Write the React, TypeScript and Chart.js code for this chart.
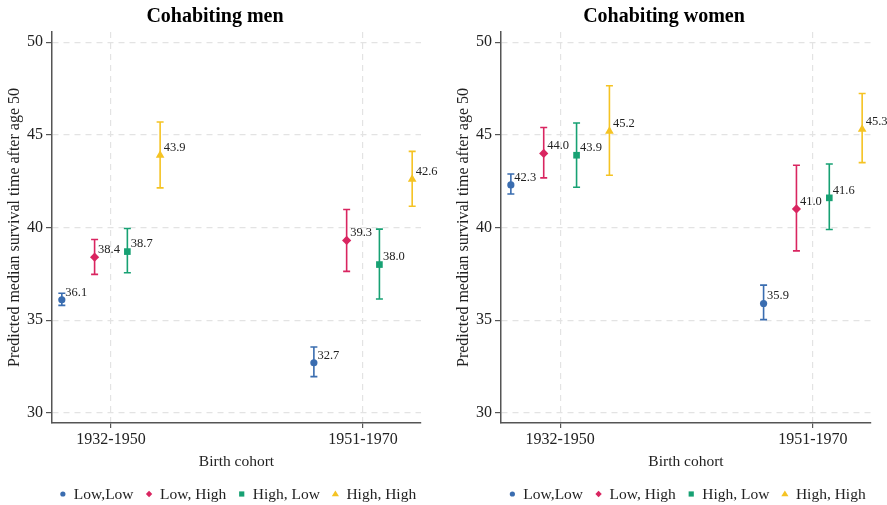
import React, { useEffect, useRef } from 'react';
import { Chart, registerables } from 'chart.js';

Chart.register(...registerables);

// ---------- data ----------
const cohorts = ['1932-1950', '1951-1970'];
const seriesNames = ['Low,Low', 'Low, High', 'High, Low', 'High, High'];
const seriesColors = ['#3a6db0', '#d92560', '#17a173', '#f5c323'];
const seriesShapes = ['circle', 'rectRot', 'rect', 'triangle'];
const seriesOffsets = [-0.195, -0.065, 0.065, 0.195];
const yTicks = [30, 35, 40, 45, 50];

// Cohabiting men: estimate per cohort, CI lower, CI upper
const menLowLow = [36.1, 32.7];
const menLowLowLower = [35.8, 31.95];
const menLowLowUpper = [36.45, 33.55];
const menLowHigh = [38.4, 39.3];
const menLowHighLower = [37.47, 37.63];
const menLowHighUpper = [39.35, 40.97];
const menHighLow = [38.7, 38.0];
const menHighLowLower = [37.56, 36.14];
const menHighLowUpper = [39.95, 39.91];
const menHighHigh = [43.9, 42.6];
const menHighHighLower = [42.14, 41.15];
const menHighHighUpper = [45.69, 44.11];

// Cohabiting women
const womenLowLow = [42.3, 35.9];
const womenLowLowLower = [41.81, 35.03];
const womenLowLowUpper = [42.89, 36.89];
const womenLowHigh = [44.0, 41.0];
const womenLowHighLower = [42.68, 38.74];
const womenLowHighUpper = [45.4, 43.36];
const womenHighLow = [43.9, 41.6];
const womenHighLowLower = [42.17, 39.89];
const womenHighLowUpper = [45.64, 43.43];
const womenHighHigh = [45.2, 45.3];
const womenHighHighLower = [42.82, 43.5];
const womenHighHighUpper = [47.65, 47.23];

const menSeries = [
  [menLowLow, menLowLowLower, menLowLowUpper],
  [menLowHigh, menLowHighLower, menLowHighUpper],
  [menHighLow, menHighLowLower, menHighLowUpper],
  [menHighHigh, menHighHighLower, menHighHighUpper],
];
const womenSeries = [
  [womenLowLow, womenLowLowLower, womenLowLowUpper],
  [womenLowHigh, womenLowHighLower, womenLowHighUpper],
  [womenHighLow, womenHighLowLower, womenHighLowUpper],
  [womenHighHigh, womenHighHighLower, womenHighHighUpper],
];

const SERIF = '"Liberation Serif", "Times New Roman", "DejaVu Serif", serif';
const TEXT = '#222222';
const pointRadii = [3.6, 4.6, 4.7, 5.0];

function drawShape(ctx: CanvasRenderingContext2D, shape: string, x: number, y: number, r: number) {
  ctx.beginPath();
  if (shape === 'circle') {
    ctx.arc(x, y, r, 0, Math.PI * 2);
  } else if (shape === 'rectRot') {
    ctx.moveTo(x, y - r);
    ctx.lineTo(x + r, y);
    ctx.lineTo(x, y + r);
    ctx.lineTo(x - r, y);
    ctx.closePath();
  } else if (shape === 'rect') {
    ctx.rect(x - r, y - r, 2 * r, 2 * r);
  } else {
    const h = r * 1.6;
    ctx.moveTo(x, y - h * 0.6);
    ctx.lineTo(x + r, y + h * 0.4);
    ctx.lineTo(x - r, y + h * 0.4);
    ctx.closePath();
  }
  ctx.fill();
}

type PanelProps = {
  title: string;
  series: number[][][];
  width: number;
  yAxisWidth: number;
  padRight: number;
  titleX: number;
  yTitlePad: number;
};

function Panel({ title, series, width, yAxisWidth, padRight, titleX, yTitlePad }: PanelProps) {
  const ref = useRef<HTMLCanvasElement | null>(null);

  useEffect(() => {
    if (!ref.current) return;

    const datasets = series.map((s, si) => ({
      label: seriesNames[si],
      data: cohorts.map((_, ci) => ({
        x: ci + 1 + seriesOffsets[si],
        y: s[0][ci],
        lo: s[1][ci],
        hi: s[2][ci],
      })),
      pointStyle: seriesShapes[si],
      pointRadius: pointRadii[si],
      pointHoverRadius: pointRadii[si],
      backgroundColor: seriesColors[si],
      borderColor: seriesColors[si],
      pointBorderWidth: 0,
      showLine: false,
    }));

    const overlay = {
      id: 'overlay',
      beforeDatasetsDraw(chart: any) {
        const ctx = chart.ctx;
        const xs = chart.scales.x;
        const ys = chart.scales.y;
        ctx.save();
        chart.data.datasets.forEach((ds: any, si: number) => {
          ctx.strokeStyle = seriesColors[si];
          ctx.lineWidth = 1.6;
          ds.data.forEach((d: any) => {
            const px = xs.getPixelForValue(d.x);
            const top = ys.getPixelForValue(d.hi);
            const bot = ys.getPixelForValue(d.lo);
            ctx.beginPath();
            ctx.moveTo(px, top);
            ctx.lineTo(px, bot);
            ctx.moveTo(px - 3.5, top);
            ctx.lineTo(px + 3.5, top);
            ctx.moveTo(px - 3.5, bot);
            ctx.lineTo(px + 3.5, bot);
            ctx.stroke();
          });
        });
        ctx.restore();
      },
      afterDatasetsDraw(chart: any) {
        const ctx = chart.ctx;
        const xs = chart.scales.x;
        const ys = chart.scales.y;
        ctx.save();
        ctx.font = `12.5px ${SERIF}`;
        ctx.fillStyle = TEXT;
        ctx.textAlign = 'left';
        ctx.textBaseline = 'middle';
        chart.data.datasets.forEach((ds: any) => {
          ds.data.forEach((d: any) => {
            const px = xs.getPixelForValue(d.x);
            const py = ys.getPixelForValue(d.y);
            ctx.fillText(d.y.toFixed(1), px + 3.5, py - 7.5);
          });
        });
        ctx.restore();
      },
      afterDraw(chart: any) {
        const ctx = chart.ctx;
        const area = chart.chartArea;
        ctx.save();
        // panel title
        ctx.font = `bold 20px ${SERIF}`;
        ctx.fillStyle = '#000';
        ctx.textAlign = 'center';
        ctx.textBaseline = 'middle';
        ctx.fillText(title, titleX, 17);
        // legend
        ctx.font = `15.5px ${SERIF}`;
        const gapMarker = 11;
        const gapItem = 15.5;
        const widths = seriesNames.map((n) => ctx.measureText(n).width);
        let total = 0;
        widths.forEach((w, i) => {
          total += gapMarker + w + (i < widths.length - 1 ? gapItem : 0);
        });
        let x = (area.left + area.right) / 2 - total / 2 + 3;
        const ly = 495;
        const legendR = [2.6, 3.2, 2.6, 3.6];
        seriesNames.forEach((n, i) => {
          ctx.fillStyle = seriesColors[i];
          drawShape(ctx, seriesShapes[i], x, ly - 1, legendR[i]);
          ctx.fillStyle = TEXT;
          ctx.textAlign = 'left';
          ctx.fillText(n, x + gapMarker, ly);
          x += gapMarker + widths[i] + gapItem;
        });
        ctx.restore();
      },
    };

    const chart = new Chart(ref.current, {
      type: 'scatter',
      data: { datasets: datasets as any },
      plugins: [overlay],
      options: {
        animation: false,
        responsive: false,
        events: [],
        layout: { padding: { top: 32, right: padRight, bottom: 34, left: 0 } },
        plugins: {
          legend: { display: false },
          title: { display: false },
          tooltip: { enabled: false },
        },
        scales: {
          x: {
            type: 'linear',
            min: 0.766,
            max: 2.23,
            afterBuildTicks: (scale: any) => {
              scale.ticks = cohorts.map((_, i) => ({ value: i + 1 }));
            },
            afterFit: (scale: any) => {
              scale.height = 48;
            },
            ticks: {
              callback: (v: any) => cohorts[Math.round(Number(v)) - 1] ?? '',
              font: { family: SERIF, size: 16 },
              color: TEXT,
              padding: 2,
              maxRotation: 0,
            },
            grid: {
              color: '#e3e3e3',
              lineWidth: 1.2,
              tickColor: '#555',
              tickLength: 5,
              tickBorderDash: [],
            } as any,
            border: { display: true, color: '#555', width: 1.5, dash: [6, 5] } as any,
            title: {
              display: true,
              text: 'Birth cohort',
              font: { family: SERIF, size: 15.5 },
              color: TEXT,
              padding: { top: 0, bottom: 0 },
            },
          },
          y: {
            type: 'linear',
            min: 29.45,
            max: 50.55,
            afterBuildTicks: (scale: any) => {
              scale.ticks = yTicks.map((v) => ({ value: v }));
            },
            afterFit: (scale: any) => {
              scale.width = yAxisWidth;
            },
            ticks: {
              font: { family: SERIF, size: 16 },
              color: TEXT,
              padding: 3,
            },
            grid: {
              color: '#e3e3e3',
              lineWidth: 1.2,
              tickColor: '#555',
              tickLength: 6,
            } as any,
            border: { display: true, color: '#555', width: 1.5, dash: [6, 5] } as any,
            title: {
              display: true,
              text: 'Predicted median survival time after age 50',
              font: { family: SERIF, size: 16 },
              color: TEXT,
              padding: { top: yTitlePad, bottom: 0 },
            },
          },
        },
      } as any,
    });
    return () => chart.destroy();
  }, []);

  return <canvas ref={ref} width={width} height={505} style={{ display: 'block', width, height: 505 }} />;
}

export default function App() {
  return (
    <div
      style={{
        position: 'absolute',
        left: 0,
        top: 0,
        width: 887,
        height: 505,
        background: '#fff',
        display: 'flex',
      }}
    >
      <Panel
        title="Cohabiting men"
        series={menSeries}
        width={443}
        yAxisWidth={52}
        padRight={22}
        titleX={215}
        yTitlePad={5.5}
      />
      <Panel
        title="Cohabiting women"
        series={womenSeries}
        width={444}
        yAxisWidth={58}
        padRight={16}
        titleX={221}
        yTitlePad={11.5}
      />
    </div>
  );
}
